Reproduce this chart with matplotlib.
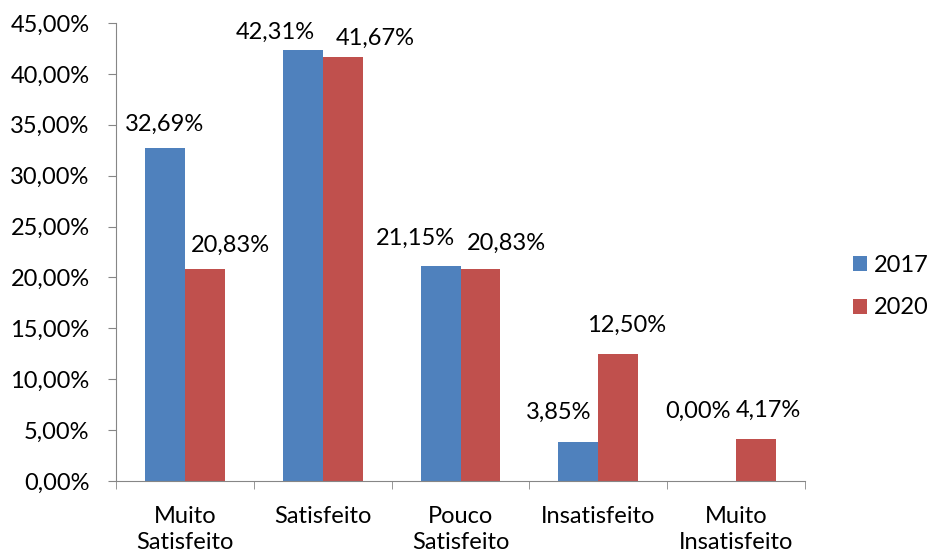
import numpy as np
import matplotlib.pyplot as plt

plt.rcParams['font.family'] = ['Lato', 'DejaVu Sans']

categories = ['Muito\nSatisfeito', 'Satisfeito', 'Pouco\nSatisfeito', 'Insatisfeito', 'Muito\nInsatisfeito']
v2017 = [32.69, 42.31, 21.15, 3.85, 0.00]
v2020 = [20.83, 41.67, 20.83, 12.50, 4.17]
years = ['2017', '2020']
colors = ['#4F81BD', '#C0504D']

# label nudges in pixels (labels were moved by hand in the original)
dx2017 = [0, -27, -25, -20, -18]
dy2017 = [24, 18, 27, 29, 70]
dx2020 = [26, 33, 26, 8, 12]
dy2020 = [24, 19, 26, 28, 28]

FS = 17

def pct(v):
    return f"{v:.2f}%".replace('.', ',')

fig = plt.figure(figsize=(9.29, 5.58), dpi=100)
ax = fig.add_axes([0.1249, 0.138, 0.7416, 0.8208])

x = np.arange(len(categories))
w = 0.29
b1 = ax.bar(x - w / 2, v2017, w, color=colors[0], label=years[0])
b2 = ax.bar(x + w / 2, v2020, w, color=colors[1], label=years[1])

for bars, vals, dxs, dys in [(b1, v2017, dx2017, dy2017), (b2, v2020, dx2020, dy2020)]:
    for rect, v, ddx, ddy in zip(bars, vals, dxs, dys):
        ax.annotate(pct(v), (rect.get_x() + rect.get_width() / 2, v),
                    xytext=(ddx, ddy), textcoords='offset pixels',
                    ha='center', va='center', fontsize=FS)

ax.set_xlim(-0.5, len(categories) - 0.5)
ax.set_ylim(0, 45)
ax.set_yticks(np.arange(0, 46, 5))
ax.set_yticklabels([pct(t) for t in np.arange(0, 46, 5)], fontsize=FS)
ax.set_xticks(x)
ax.set_xticklabels(categories, fontsize=FS, linespacing=1.3)
ax.set_xticks(np.arange(-0.5, len(categories)), minor=True)
ax.tick_params(axis='x', which='major', length=0, pad=18)
ax.tick_params(axis='x', which='minor', length=6, color='#868686')
ax.tick_params(axis='y', length=6, color='#868686', pad=13)

for s in ['top', 'right']:
    ax.spines[s].set_visible(False)
for s in ['left', 'bottom']:
    ax.spines[s].set_color('#868686')

ax.legend(loc='center left', bbox_to_anchor=(1.056, 0.424), frameon=False,
          borderaxespad=0, fontsize=FS, handlelength=0.6, handleheight=0.6,
          handletextpad=0.3, labelspacing=0.9)

fig.savefig('out.png', dpi=100)
